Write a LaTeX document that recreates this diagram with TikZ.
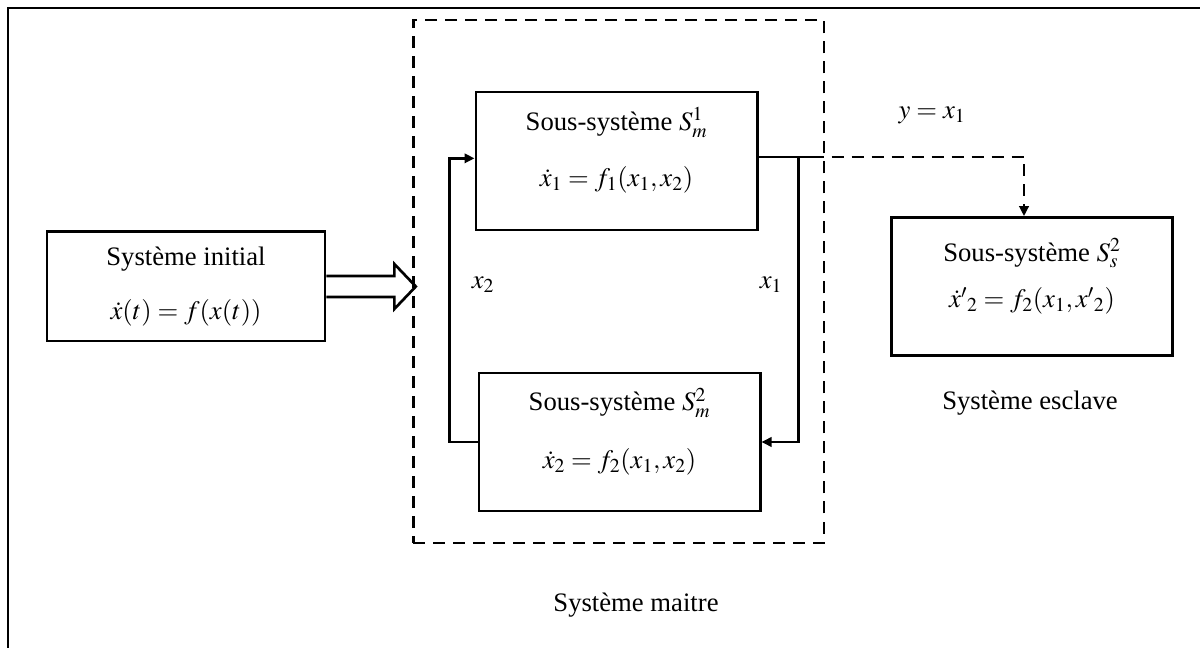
\documentclass[tikz,border=0pt]{standalone}
\usepackage{mathptmx}
\usepackage{fontspec}
\setmainfont{Liberation Serif}
\usetikzlibrary{arrows.meta,positioning,calc}

\begin{document}
\begin{tikzpicture}[x=0.75pt,y=-0.75pt,
  font=\fontsize{20}{24}\selectfont,
  line width=2pt,
  blk/.style={draw, minimum width=211pt, minimum height=103.5pt},
  txt/.style={align=center},
  arr/.style={-{Triangle[length=7.5pt,width=7pt]}},
  dsh/.style={dash pattern=on 9pt off 6pt},
]
\useasboundingbox (0,0) rectangle (1200,648);
\draw (1200,8) -- (8,8) -- (8,648);

% boxes
\node[blk, minimum width=208.5pt, minimum height=82pt] (init) at (186,286.5) {};
\node[draw, dsh, minimum width=308pt, minimum height=392pt] (master) at (618.5,281.5) {};
\node[blk] (s1) at (616.5,161) {};
\node[blk] (s2) at (619.5,442) {};
\node[blk] (slave) at (1032,286.5) {};

% box texts
\node[txt] (tinit) at (init) {Système initial\\[17pt]$\dot{x}(t) = f(x(t))$};
\node[txt] (ts1) at ([yshift=8pt]s1.center) {Sous-système $S_m^1$\\[18pt]$\dot{x}_1 = f_1(x_1, x_2)$};
\node[txt] (ts2) at ([yshift=8pt]s2.center) {Sous-système $S_m^2$\\[19pt]$\dot{x}_2 = f_2(x_1, x_2)$};
\node[txt] (tslave) at ([yshift=7.5pt]slave.center) {Sous-système $S_s^2$\\[11pt]$\dot{x}'{}_2 = f_2(x_1, x'{}_2)$};

% labels
\node (lx2) at (483,285) {$x_2$};
\node (lx1) at (771,285) {$x_1$};
\node (ly) at (932,115) {$y = x_1$};
\node (lesc) at (1030,403) {Système esclave};
\node (lmai) at (636,605) {Système maitre};

% connectors
\draw[arr] (s2.west) -- ++(-28,0) |- ([yshift=2pt]s1.west);
\draw[arr] ([yshift=3pt]s1.east) -- ++(40,0) |- (s2.east);
\draw ([yshift=3pt]s1.east) -- ++(53,0) coordinate (tap);
\draw[arr, dsh] (tap) -| ([xshift=-6pt]slave.north);

% double arrow
\coordinate (tip) at ($(master.west |- init.east)+(3pt,0)$);
\draw[line join=miter] ([yshift=7.9pt]init.east) -- ++(51pt,0) -- ++(0,9pt) -- (tip)
  -- ([shift={(51pt,-16.9pt)}]init.east) -- ++(0,9pt) -- ([yshift=-7.9pt]init.east);
\end{tikzpicture}
\end{document}
